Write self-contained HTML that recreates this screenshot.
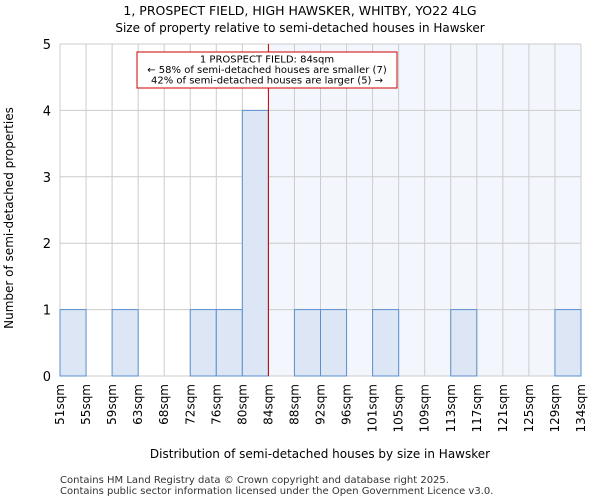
<!DOCTYPE html>
<html><head><meta charset="utf-8"><style>
body{margin:0;background:#fff;font-family:"DejaVu Sans","Liberation Sans",sans-serif;}
</style></head><body>
<svg id="chart" width="600" height="500" xmlns="http://www.w3.org/2000/svg" font-family="DejaVu Sans, Liberation Sans, sans-serif">
<text x="300" y="15" text-anchor="middle" font-size="12.5">1, PROSPECT FIELD, HIGH HAWSKER, WHITBY, YO22 4LG</text>
<text x="300" y="32" text-anchor="middle" font-size="12">Size of property relative to semi-detached houses in Hawsker</text>
<g id="plot"></g>
<text x="320" y="458" text-anchor="middle" font-size="12">Distribution of semi-detached houses by size in Hawsker</text>
<text transform="translate(13,218) rotate(-90)" text-anchor="middle" font-size="12">Number of semi-detached properties</text>
<text x="60" y="483" font-size="10" fill="#333">Contains HM Land Registry data © Crown copyright and database right 2025.</text>
<text x="60" y="494" font-size="10" fill="#333">Contains public sector information licensed under the Open Government Licence v3.0.</text>
</svg>
<script>
const binLabels=["51sqm","55sqm","59sqm","63sqm","68sqm","72sqm","76sqm","80sqm","84sqm","88sqm","92sqm","96sqm","101sqm","105sqm","109sqm","113sqm","117sqm","121sqm","125sqm","129sqm","134sqm"];
const counts=[1,0,1,0,0,1,1,4,0,1,1,0,1,0,0,1,0,0,0,1];
const yTicks=[0,1,2,3,4,5];
const markerIndex=8;
const NS="http://www.w3.org/2000/svg";
const g=document.getElementById('plot');
const L=60,R=581,T=44,B=376,yMax=5;
const bw=(R-L)/counts.length;
const x=i=>L+i*bw;
const y=v=>B-(v/yMax)*(B-T);
function mk(t,a){const e=document.createElementNS(NS,t);for(const k in a)e.setAttribute(k,a[k]);g.appendChild(e);return e;}
let e=mk('rect',{x:x(markerIndex),y:T,width:R-x(markerIndex),height:B-T,fill:'#f3f6fd'});


for(let i=0;i<=counts.length;i++){e=mk('line',{x1:x(i),x2:x(i),y1:T,y2:B,stroke:'#cccccc','stroke-width':1});

}
yTicks.forEach(v=>{e=mk('line',{x1:L,x2:R,y1:y(v),y2:y(v),stroke:'#cccccc','stroke-width':1});


e=mk('text',{x:L-9,y:y(v)+5,'text-anchor':'end','font-size':'13'});e.textContent=v;

});
counts.forEach((c,i)=>{if(!c)return;e=mk('rect',{x:x(i),y:y(c),width:bw,height:B-y(c),fill:'#dce6f4',stroke:'#5b8fd0','stroke-width':1});

});
binLabels.forEach((l,i)=>{e=mk('text',{transform:`translate(${x(i)+4},${B+8}) rotate(-90)`,'text-anchor':'end','font-size':'12'});e.textContent=l;

});
e=mk('line',{x1:x(markerIndex),x2:x(markerIndex),y1:T,y2:B,stroke:'#cc0000','stroke-width':1});


e=mk('rect',{x:137,y:52,width:260,height:36,fill:'#fff',stroke:'#cc0000','stroke-width':1});


["1 PROSPECT FIELD: 84sqm","← 58% of semi-detached houses are smaller (7)","42% of semi-detached houses are larger (5) →"].forEach((t,i)=>{e=mk('text',{x:267,y:62.5+i*10.5,'text-anchor':'middle','font-size':'10'});e.textContent=t;

});
</script>
</body></html>
